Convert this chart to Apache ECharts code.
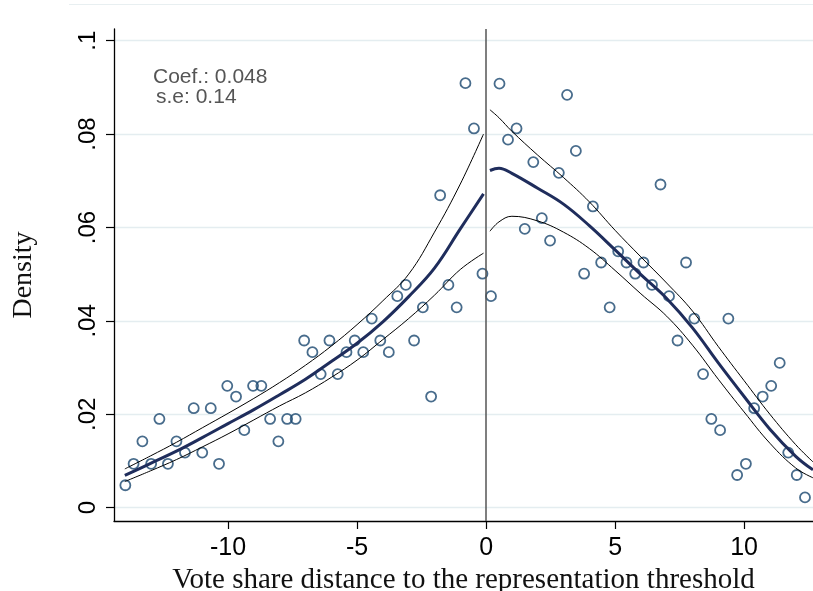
<!DOCTYPE html>
<html>
<head>
<meta charset="utf-8">
<script src="https://cdn.jsdelivr.net/npm/echarts@6/dist/echarts.min.js"></script>
<style>html,body{margin:0;padding:0;background:#fff}#c{width:813px;height:591px}</style>
</head>
<body>
<div id="c"></div>
<script>
// Bin centers and density values (scatter)
const binX = [-13.98,-13.66,-13.32,-12.98,-12.66,-12.33,-12.00,-11.67,-11.33,-11.00,-10.67,-10.35,-10.03,-9.69,-9.37,-9.03,-8.71,-8.37,-8.05,-7.71,-7.38,-7.05,-6.73,-6.41,-6.07,-5.75,-5.41,-5.09,-4.76,-4.43,-4.10,-3.77,-3.44,-3.11,-2.79,-2.45,-2.13,-1.78,-1.46,-1.14,-0.80,-0.47,-0.14,
  0.19,0.52,0.85,1.18,1.50,1.83,2.16,2.48,2.82,3.14,3.48,3.80,4.14,4.46,4.79,5.12,5.44,5.78,6.10,6.43,6.76,7.09,7.42,7.75,8.07,8.41,8.73,9.07,9.39,9.73,10.07,10.39,10.72,11.05,11.38,11.71,12.04,12.36];
const binDensity = [0.0048,0.0094,0.0142,0.0094,0.0190,0.0094,0.0142,0.0118,0.0213,0.0118,0.0213,0.0094,0.0261,0.0238,0.0166,0.0261,0.0261,0.0190,0.0142,0.0190,0.0190,0.0358,0.0333,0.0286,0.0358,0.0286,0.0333,0.0358,0.0333,0.0405,0.0358,0.0333,0.0453,0.0477,0.0358,0.0429,0.0238,0.0669,0.0477,0.0429,0.0909,0.0812,0.0501,
  0.0453,0.0908,0.0788,0.0812,0.0597,0.0740,0.0620,0.0572,0.0717,0.0884,0.0764,0.0501,0.0645,0.0525,0.0429,0.0549,0.0525,0.0501,0.0525,0.0477,0.0692,0.0453,0.0358,0.0525,0.0405,0.0286,0.0190,0.0166,0.0405,0.0070,0.0094,0.0213,0.0238,0.0261,0.0310,0.0118,0.0070,0.0022];

// Left-of-threshold fit and CI
const fitLeftX = [-14,-13,-12,-11,-10,-9,-8,-7,-6,-5,-4,-3,-2,-1,-0.1];
const fitLeft  = [0.0069,0.0095,0.0121,0.0150,0.0180,0.0210,0.0242,0.0275,0.0313,0.0352,0.0398,0.0452,0.0513,0.0597,0.0672];
const ciHiLeft = [0.0083,0.0111,0.0140,0.0171,0.0202,0.0234,0.0268,0.0305,0.0346,0.0392,0.0443,0.0500,0.0590,0.0693,0.0800];
const ciLoLeft = [0.0056,0.0079,0.0103,0.0130,0.0158,0.0188,0.0218,0.0246,0.0279,0.0316,0.0360,0.0405,0.0455,0.0510,0.0545];

// Right-of-threshold fit and CI
const fitRightX = [0.15,0.5,1,2,3,4,5,6,7,8,9,10,11,12,12.67];
const fitRight  = [0.0722,0.0727,0.0716,0.0684,0.0650,0.0604,0.0552,0.0499,0.0448,0.0385,0.0310,0.0238,0.0168,0.0110,0.0081];
const ciHiRight = [0.0852,0.0835,0.0806,0.0755,0.0707,0.0655,0.0594,0.0537,0.0481,0.0421,0.0345,0.0272,0.0200,0.0135,0.0098];
const ciLoRight = [0.0592,0.0612,0.0624,0.0614,0.0590,0.0555,0.0508,0.0458,0.0410,0.0348,0.0275,0.0205,0.0138,0.0085,0.0064];

const xTicks = [-10,-5,0,5,10];
const yTicks = [0,0.02,0.04,0.06,0.08,0.1];
const threshold = 0;
const annot = ['Coef.: 0.048', 's.e: 0.14'];

const zip = (xs, ys) => xs.map((x, i) => [x, ys[i]]);
const NAVY = '#1a476f';
const FIT = '#1f2d5c';

const lineSeries = (xs, ys, color, width) => ({
  type: 'line', data: zip(xs, ys), showSymbol: false, smooth: 0.4,
  lineStyle: { color, width }, silent: true, z: 3
});

const chart = echarts.init(document.getElementById('c'), null, { renderer: 'canvas' });
chart.setOption({
  animation: false,
  backgroundColor: '#fff',
  grid: { left: 114, right: 0, top: 29, bottom: 70, containLabel: false, outerBoundsMode: 'none' },
  xAxis: {
    type: 'value', min: -14.42, max: 12.67,
    name: 'Vote share distance to the representation threshold',
    nameLocation: 'middle', nameGap: 39,
    nameTextStyle: { fontFamily: 'Liberation Serif', fontSize: 29, color: '#111' },
    axisLine: { show: true, onZero: false, lineStyle: { color: '#000', width: 1.3 } },
    axisTick: { show: true, customValues: xTicks, length: 8, inside: false, lineStyle: { color: '#000', width: 1.2 } },
    axisLabel: { customValues: xTicks, fontFamily: 'Liberation Sans', fontSize: 25, color: '#000', margin: 15 },
    splitLine: { show: false }
  },
  yAxis: {
    type: 'value', min: -0.00285, max: 0.1025,
    name: 'Density', nameLocation: 'middle', nameRotate: 90, nameGap: 76,
    nameTextStyle: { fontFamily: 'Liberation Serif', fontSize: 28, color: '#111' },
    axisLine: { show: true, onZero: false, lineStyle: { color: '#000', width: 1.3 } },
    axisTick: { show: true, customValues: yTicks, length: 8, lineStyle: { color: '#000', width: 1.2 } },
    axisLabel: {
      customValues: yTicks, rotate: 90, fontFamily: 'Liberation Sans', fontSize: 24, color: '#000', margin: 14,
      formatter: v => (v === 0 ? '0' : String(v).replace(/^0/, ''))
    },
    splitLine: { show: true, lineStyle: { color: '#e4edf0', width: 1.3 } }
  },
  graphic: [
    { type: 'line', shape: { x1: 69, y1: 4.5, x2: 813, y2: 4.5 }, style: { stroke: '#e8eff1', lineWidth: 1.2 }, silent: true },
    { type: 'text', x: 153, y: 77, style: { text: annot[0], fontFamily: 'Liberation Sans', fontSize: 21, fill: '#555', verticalAlign: 'middle' } },
    { type: 'text', x: 156, y: 97, style: { text: annot[1], fontFamily: 'Liberation Sans', fontSize: 21, fill: '#555', verticalAlign: 'middle' } }
  ],
  series: [
    {
      type: 'scatter', data: zip(binX, binDensity), symbol: 'circle', symbolSize: 10,
      itemStyle: { color: 'rgba(255,255,255,0)', borderColor: NAVY, borderWidth: 1.8 },
      z: 2,
      markLine: {
        silent: true, symbol: 'none', animation: false,
        label: { show: false },
        lineStyle: { color: '#555', width: 1.5, type: 'solid' },
        data: [{ xAxis: threshold }]
      }
    },
    lineSeries(fitLeftX, ciHiLeft, '#000', 1),
    lineSeries(fitLeftX, ciLoLeft, '#000', 1),
    lineSeries(fitLeftX, fitLeft, FIT, 3),
    lineSeries(fitRightX, ciHiRight, '#000', 1),
    lineSeries(fitRightX, ciLoRight, '#000', 1),
    lineSeries(fitRightX, fitRight, FIT, 3)
  ]
});
</script>
</body>
</html>
